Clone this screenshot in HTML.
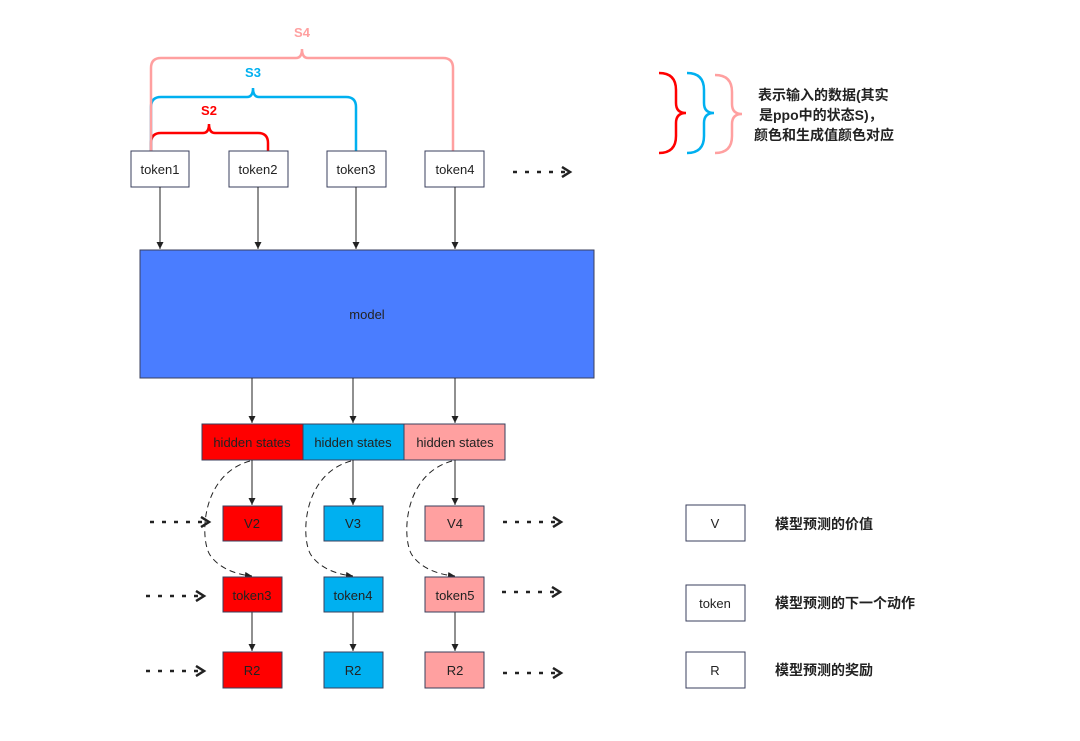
<!DOCTYPE html>
<html><head><meta charset="utf-8"><style>
html,body{margin:0;padding:0;background:#fff;}
svg{display:block;}
text{font-family:"Liberation Sans","Noto Sans CJK SC",sans-serif;}
.b{font-weight:bold;}
</style></head><body>
<svg width="1080" height="741" viewBox="0 0 1080 741" xmlns="http://www.w3.org/2000/svg">
<defs>
<marker id="a" markerWidth="8" markerHeight="8" refX="7" refY="4" orient="auto" markerUnits="userSpaceOnUse"><path d="M0,0.5 L7,4 L0,7.5 z" fill="#222"/></marker>
<marker id="o" markerWidth="12" markerHeight="12" refX="9" refY="6" orient="auto" markerUnits="userSpaceOnUse"><path d="M1,1 L9,6 L1,11" fill="none" stroke="#222" stroke-width="2.5"/></marker>
</defs>
<!-- braces -->
<g fill="none" stroke-width="2.5">
<path d="M151,151 V143 Q151,133 161,133 H203 Q209,133 209,124 Q209,133 215,133 H258 Q268,133 268,143 V151" stroke="#ff0000"/>
<path d="M151,151 V107 Q151,97 161,97 H247 Q253,97 253,88 Q253,97 259,97 H346 Q356,97 356,107 V151" stroke="#00b0f0"/>
<path d="M151,151 V68 Q151,58 161,58 H296 Q302,58 302,49 Q302,58 308,58 H443 Q453,58 453,68 V151" stroke="#ffa0a0"/>
</g>
<text x="209" y="115" font-size="13" fill="#ff0000" text-anchor="middle" class="b">S2</text>
<text x="253" y="77" font-size="13" fill="#00b0f0" text-anchor="middle" class="b">S3</text>
<text x="302" y="37" font-size="13" fill="#ffa0a0" text-anchor="middle" class="b">S4</text>
<!-- tokens -->
<g stroke="#3a3f5c" stroke-width="1" fill="#fff">
<rect x="131" y="151" width="58" height="36"/><rect x="229" y="151" width="59" height="36"/>
<rect x="327" y="151" width="59" height="36"/><rect x="425" y="151" width="59" height="36"/>
</g>
<g font-size="13" fill="#222" text-anchor="middle">
<text x="160" y="174">token1</text><text x="258" y="174">token2</text><text x="356" y="174">token3</text><text x="455" y="174">token4</text>
</g>
<g stroke="#222" stroke-width="1" marker-end="url(#a)">
<line x1="160" y1="187" x2="160" y2="249"/><line x1="258" y1="187" x2="258" y2="249"/>
<line x1="356" y1="187" x2="356" y2="249"/><line x1="455" y1="187" x2="455" y2="249"/>
</g>
<!-- model -->
<rect x="140" y="250" width="454" height="128" fill="#4a7dff" stroke="#3a3f5c" stroke-width="1"/>
<text x="367" y="319" font-size="13" fill="#222" text-anchor="middle">model</text>
<g stroke="#222" stroke-width="1" marker-end="url(#a)">
<line x1="252" y1="378" x2="252" y2="423"/><line x1="353" y1="378" x2="353" y2="423"/><line x1="455" y1="378" x2="455" y2="423"/>
</g>
<!-- hidden states -->
<g stroke="#3a3f5c" stroke-width="1">
<rect x="202" y="424" width="101" height="36" fill="#ff0000"/>
<rect x="303" y="424" width="101" height="36" fill="#00b0f0"/>
<rect x="404" y="424" width="101" height="36" fill="#ffa0a0"/>
</g>
<g font-size="13" fill="#222" text-anchor="middle">
<text x="252" y="447">hidden states</text><text x="353" y="447">hidden states</text><text x="455" y="447">hidden states</text>
</g>
<g stroke="#222" stroke-width="1" marker-end="url(#a)">
<line x1="252" y1="460" x2="252" y2="505"/><line x1="353" y1="460" x2="353" y2="505"/><line x1="455" y1="460" x2="455" y2="505"/>
<line x1="252" y1="612" x2="252" y2="651"/><line x1="353" y1="612" x2="353" y2="651"/><line x1="455" y1="612" x2="455" y2="651"/>
</g>
<!-- dashed arcs -->
<g fill="none" stroke="#222" stroke-width="1" stroke-dasharray="6,4" marker-end="url(#a)">
<path d="M250,461 C200,475 200,540 210,555 C220,570 240,575 252,576"/>
<path d="M351,461 C301,475 301,540 311,555 C321,570 341,575 353,576"/>
<path d="M452,461 C402,475 402,540 412,555 C422,570 442,575 455,576"/>
</g>
<!-- boxes -->
<g stroke="#3a3f5c" stroke-width="1">
<rect x="223" y="506" width="59" height="35" fill="#ff0000"/><rect x="324" y="506" width="59" height="35" fill="#00b0f0"/><rect x="425" y="506" width="59" height="35" fill="#ffa0a0"/>
<rect x="223" y="577" width="59" height="35" fill="#ff0000"/><rect x="324" y="577" width="59" height="35" fill="#00b0f0"/><rect x="425" y="577" width="59" height="35" fill="#ffa0a0"/>
<rect x="223" y="652" width="59" height="36" fill="#ff0000"/><rect x="324" y="652" width="59" height="36" fill="#00b0f0"/><rect x="425" y="652" width="59" height="36" fill="#ffa0a0"/>
</g>
<g font-size="13" fill="#222" text-anchor="middle">
<text x="252" y="528">V2</text><text x="353" y="528">V3</text><text x="455" y="528">V4</text>
<text x="252" y="600">token3</text><text x="353" y="600">token4</text><text x="455" y="600">token5</text>
<text x="252" y="675">R2</text><text x="353" y="675">R2</text><text x="455" y="675">R2</text>
</g>
<!-- dotted arrows -->
<g stroke="#222" stroke-width="2.5" stroke-dasharray="4,8" marker-end="url(#o)">
<line x1="513" y1="172" x2="570" y2="172"/>
<line x1="150" y1="522" x2="209" y2="522"/>
<line x1="146" y1="596" x2="204" y2="596"/>
<line x1="146" y1="671" x2="204" y2="671"/>
<line x1="503" y1="522" x2="561" y2="522"/>
<line x1="502" y1="592" x2="560" y2="592"/>
<line x1="503" y1="673" x2="561" y2="673"/>
</g>
<!-- right braces -->
<g fill="none" stroke-width="2.5">
<path d="M659,73 Q676,73 676,90 V103 Q676,113 686,113 Q676,113 676,123 V136 Q676,153 659,153" stroke="#ff0000"/>
<path d="M687,73 Q704,73 704,90 V103 Q704,113 714,113 Q704,113 704,123 V136 Q704,153 687,153" stroke="#00b0f0"/>
<path d="M715,75 Q732,75 732,92 V104 Q732,114 742,114 Q732,114 732,124 V136 Q732,153 715,153" stroke="#ffa0a0"/>
</g>
<g font-size="14" fill="#222" class="b">
<text x="758" y="100">表示输入的数据(其实</text>
<text x="759" y="120">是ppo中的状态S)，</text>
<text x="754" y="140">颜色和生成值颜色对应</text>
</g>
<!-- legend -->
<g stroke="#3a3f5c" stroke-width="1" fill="#fff">
<rect x="686" y="505" width="59" height="36"/><rect x="686" y="585" width="59" height="36"/><rect x="686" y="652" width="59" height="36"/>
</g>
<g font-size="13" fill="#222" text-anchor="middle">
<text x="715" y="528">V</text><text x="715" y="608">token</text><text x="715" y="675">R</text>
</g>
<g font-size="14" fill="#222" class="b">
<text x="775" y="529">模型预测的价值</text>
<text x="775" y="608">模型预测的下一个动作</text>
<text x="775" y="675">模型预测的奖励</text>
</g>
</svg>
</body></html>
